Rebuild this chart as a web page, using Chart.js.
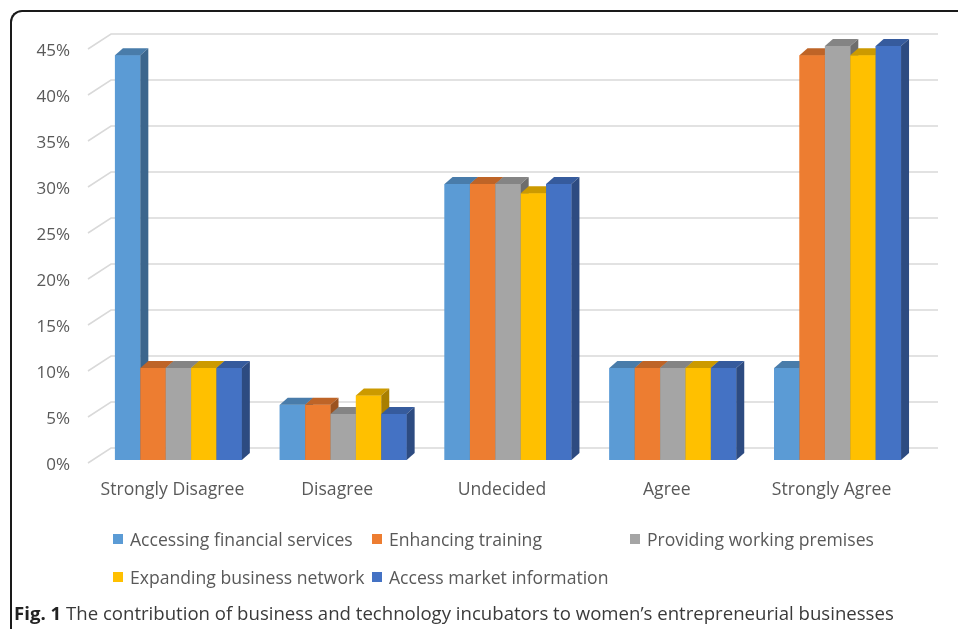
<!DOCTYPE html>
<html>
<head>
<meta charset="utf-8">
<script src="https://cdn.jsdelivr.net/npm/chart.js@4.4.1/dist/chart.umd.min.js"></script>
<style>
    html, body { margin: 0; padding: 0; background: #fff; }
    body { width: 958px; height: 629px; position: relative; overflow: hidden; font-family: "Open Sans", sans-serif; }
    .frame {
        position: absolute; left: 10px; top: 10px; width: 960px; height: 640px;
        border-left: 2px solid #1a1a1a; border-top: 2px solid #1a1a1a;
        border-top-left-radius: 12px;
    }
    #chartWrap { position: absolute; left: 0; top: 0; width: 958px; height: 510px; }
    #legend { position: absolute; left: 0; top: 0; width: 958px; height: 629px; pointer-events: none; }
    .lg-item { position: absolute; display: flex; align-items: center; font-size: 17.6px; color: #595959; white-space: nowrap; }
    .lg-box { width: 10px; height: 10px; margin-right: 7px; }
    .caption { position: absolute; left: 14px; top: 600px; font-size: 18.6px; color: #3a3a3a; white-space: nowrap; }
    .caption b { color: #222; }
</style>
</head>
<body>
<div class="frame"></div>
<div id="chartWrap"><canvas id="barChart" width="958" height="510"></canvas></div>
<div id="legend"></div>
<div class="caption"><b>Fig. 1</b> The contribution of business and technology incubators to women’s entrepreneurial businesses</div>

<script>
// Data (percent of respondents)
const categories = ['Strongly Disagree', 'Disagree', 'Undecided', 'Agree', 'Strongly Agree'];
const seriesNames = [
    'Accessing financial services',
    'Enhancing training',
    'Providing working premises',
    'Expanding business network',
    'Access market information'
];
const financialServices = [44, 6, 30, 10, 10];
const enhancingTraining = [10, 6, 30, 10, 44];
const workingPremises   = [10, 5, 30, 10, 45];
const businessNetwork   = [10, 7, 29, 10, 44];
const marketInformation = [10, 5, 30, 10, 45];
const yTicks = [0, 5, 10, 15, 20, 25, 30, 35, 40, 45];

const seriesColors = ['#5b9bd5', '#ed7d31', '#a5a5a5', '#ffc000', '#4472c4'];
const seriesValues = [financialServices, enhancingTraining, workingPremises, businessNetwork, marketInformation];

// darken a hex colour by factor
function shade(hex, f) {
    const n = parseInt(hex.slice(1), 16);
    const r = Math.round(((n >> 16) & 255) * f);
    const g = Math.round(((n >> 8) & 255) * f);
    const b = Math.round((n & 255) * f);
    return `rgb(${r},${g},${b})`;
}

const DEPTH_X = 8, DEPTH_Y = 7;

// back wall gridlines with a diagonal floor edge, like Excel's 3D charts
const gridPlugin = {
    id: 'grid3d',
    beforeDatasetsDraw(chart) {
        const ctx = chart.ctx;
        const yScale = chart.scales.y;
        ctx.save();
        ctx.strokeStyle = '#d9d9d9';
        ctx.lineWidth = 1.5;
        yTicks.forEach(v => {
            const p = yScale.getPixelForValue(v);
            ctx.beginPath();
            ctx.moveTo(88, p + 3);
            ctx.lineTo(111, p - 12);
            ctx.lineTo(938, p - 12);
            ctx.stroke();
        });
        ctx.restore();
    }
};

// redraw bars per category so each bar's front hides the previous side face
const bar3dPlugin = {
    id: 'bar3d',
    afterDatasetsDraw(chart) {
        const ctx = chart.ctx;
        ctx.save();
        categories.forEach((c, j) => {
            chart.data.datasets.forEach((ds, i) => {
                const bar = chart.getDatasetMeta(i).data[j];
                if (!bar) return;
                const { x, y, base, width } = bar.getProps(['x', 'y', 'base', 'width'], true);
                const left = x - width / 2, right = x + width / 2;
                bar.draw(ctx);
                // top face
                ctx.fillStyle = shade(seriesColors[i], 0.8);
                ctx.beginPath();
                ctx.moveTo(left, y);
                ctx.lineTo(left + DEPTH_X, y - DEPTH_Y);
                ctx.lineTo(right + DEPTH_X, y - DEPTH_Y);
                ctx.lineTo(right, y);
                ctx.closePath();
                ctx.fill();
                // side face
                ctx.fillStyle = shade(seriesColors[i], 0.66);
                ctx.beginPath();
                ctx.moveTo(right, y);
                ctx.lineTo(right + DEPTH_X, y - DEPTH_Y);
                ctx.lineTo(right + DEPTH_X, base - DEPTH_Y);
                ctx.lineTo(right, base);
                ctx.closePath();
                ctx.fill();
            });
        });
        ctx.restore();
    }
};

const chart = new Chart(document.getElementById('barChart').getContext('2d'), {
    type: 'bar',
    data: {
        labels: categories,
        datasets: seriesNames.map((name, i) => ({
            label: name,
            data: seriesValues[i],
            backgroundColor: seriesColors[i],
            borderWidth: 0,
            barPercentage: 1.0,
            categoryPercentage: 0.77
        }))
    },
    options: {
        responsive: false,
        animation: false,
        events: [],
        layout: { padding: { top: 46, right: 38, left: 0, bottom: 0 } },
        plugins: {
            legend: { display: false },
            tooltip: { enabled: false }
        },
        scales: {
            x: {
                grid: { display: false, drawTicks: false },
                border: { display: false },
                ticks: {
                    color: '#595959',
                    font: { family: 'Open Sans', size: 17.6 },
                    padding: 19,
                    labelOffset: -6,
                    maxRotation: 0
                },
                afterFit(scale) { scale.height = 50; }
            },
            y: {
                min: 0,
                max: 45,
                grid: { display: false, drawTicks: false },
                border: { display: false },
                afterBuildTicks(scale) { scale.ticks = yTicks.map(v => ({ value: v })); },
                ticks: {
                    color: '#595959',
                    font: { family: 'Open Sans', size: 17 },
                    padding: 26,
                    labelOffset: 5,
                    callback: v => v + '%'
                },
                afterFit(scale) { scale.width = 96; }
            }
        }
    },
    plugins: [gridPlugin, bar3dPlugin]
});

// legend laid out in Excel-style columns
const legendSlots = [[113, 540], [372, 540], [630, 540], [113, 578], [372, 578]];
const legendEl = document.getElementById('legend');
chart.data.datasets.forEach((ds, i) => {
    const item = document.createElement('div');
    item.className = 'lg-item';
    item.style.left = legendSlots[i][0] + 'px';
    item.style.top = (legendSlots[i][1] - 13) + 'px';
    item.innerHTML = `<span class="lg-box" style="background:${ds.backgroundColor}"></span><span>${ds.label}</span>`;
    legendEl.appendChild(item);
});
</script>
</body>
</html>
